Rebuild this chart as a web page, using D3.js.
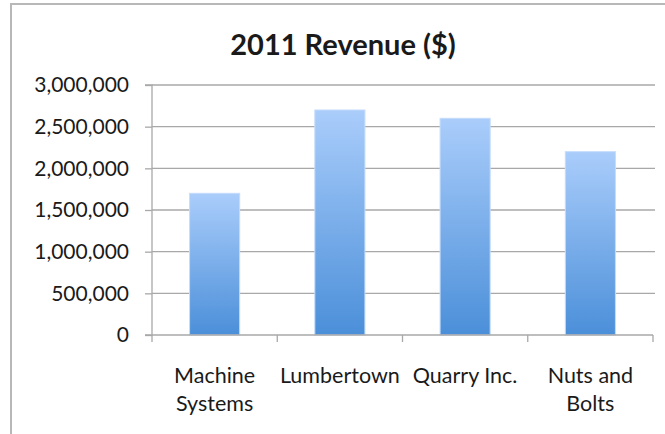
<!DOCTYPE html>
<html>
<head>
<meta charset="utf-8">
<script src="https://cdn.jsdelivr.net/npm/d3@7"></script>
<style>
  html, body { margin: 0; padding: 0; background: #fff; }
  svg { display: block; }
  text { font-family: Lato, "Open Sans", sans-serif; fill: #1a1a1a; }
</style>
</head>
<body>
<svg id="chart" width="665" height="434"></svg>
<script>
// Revenue per company, 2011
const categories = ["Machine Systems", "Lumbertown", "Quarry Inc.", "Nuts and Bolts"];
const categoryLines = [["Machine", "Systems"], ["Lumbertown"], ["Quarry Inc."], ["Nuts and", "Bolts"]];
const revenue = [1700000, 2700000, 2600000, 2200000];
const yTicks = [0, 500000, 1000000, 1500000, 2000000, 2500000, 3000000];
const chartTitle = "2011 Revenue ($)";

const svg = d3.select("#chart");
const W = 665, H = 434;
const plot = { left: 152, right: 653, top: 85, bottom: 335 };

// outer chart frame (top and left edges visible)
svg.append("path")
  .attr("d", `M11,${H} V4 H${W}`)
  .attr("fill", "none")
  .attr("stroke", "#b8b8b8")
  .attr("stroke-width", 2);

const defs = svg.append("defs");
const grad = defs.append("linearGradient")
  .attr("id", "barFill").attr("x1", 0).attr("y1", 0).attr("x2", 0).attr("y2", 1);
grad.append("stop").attr("offset", "0%").attr("stop-color", "#aacdfb");
grad.append("stop").attr("offset", "100%").attr("stop-color", "#4b8fd9");

const x = d3.scaleBand()
  .domain(categories)
  .range([plot.left, plot.right])
  .paddingInner(0.6)
  .paddingOuter(0.3);

const y = d3.scaleLinear()
  .domain([0, 3000000])
  .range([plot.bottom, plot.top]);

// horizontal gridlines
svg.append("g")
  .selectAll("line")
  .data(yTicks.filter(d => d > 0))
  .join("line")
  .attr("x1", plot.left).attr("x2", 655)
  .attr("y1", d => y(d)).attr("y2", d => y(d))
  .attr("stroke", "#a8a8a8").attr("stroke-width", 1.3);

// bars
svg.append("g")
  .selectAll("rect")
  .data(revenue)
  .join("rect")
  .attr("x", (d, i) => x(categories[i]))
  .attr("width", x.bandwidth())
  .attr("y", d => y(d))
  .attr("height", d => y(0) - y(d))
  .attr("fill", "url(#barFill)")
  .attr("stroke", "#c4dcfb")
  .attr("stroke-width", 1);

// y axis
const yAxis = d3.axisLeft(y)
  .tickValues(yTicks)
  .tickSize(7)
  .tickPadding(16)
  .tickFormat(d3.format(","));
const gy = svg.append("g").attr("transform", `translate(${plot.left},0)`).call(yAxis);
gy.select(".domain").attr("stroke", "#a8a8a8").attr("stroke-width", 1.3)
  .attr("d", `M-7,${plot.top}H0V${plot.bottom}H-7`);
gy.selectAll(".tick line").attr("stroke", "#a8a8a8").attr("stroke-width", 1.3);
gy.selectAll(".tick text")
  .style("font-family", "Lato, 'Open Sans', sans-serif")
  .style("font-size", "21px")
  .attr("fill", "#1a1a1a");

// x axis: baseline plus category boundary ticks
const bounds = d3.range(categories.length + 1).map(i => plot.left + i * x.step());
const gx = svg.append("g");
gx.append("line")
  .attr("x1", plot.left).attr("x2", plot.right)
  .attr("y1", plot.bottom).attr("y2", plot.bottom)
  .attr("stroke", "#a8a8a8").attr("stroke-width", 1.3);
gx.selectAll("line.b")
  .data(bounds)
  .join("line")
  .attr("class", "b")
  .attr("x1", d => d).attr("x2", d => d)
  .attr("y1", plot.bottom).attr("y2", plot.bottom + 7)
  .attr("stroke", "#a8a8a8").attr("stroke-width", 1.3);

// category labels
const lab = svg.append("g")
  .selectAll("text")
  .data(categories)
  .join("text")
  .attr("text-anchor", "middle")
  .style("font-size", "21.5px")
  .attr("transform", d => `translate(${x(d) + x.bandwidth() / 2},383)`);
lab.selectAll("tspan")
  .data((d, i) => categoryLines[i])
  .join("tspan")
  .attr("x", 0)
  .attr("dy", (d, j) => j === 0 ? 0 : 28)
  .text(d => d);

// title
svg.append("text")
  .attr("x", 343).attr("y", 55)
  .attr("text-anchor", "middle")
  .style("font-size", "29px")
  .style("font-weight", "bold")
  .text(chartTitle);
</script>
</body>
</html>
